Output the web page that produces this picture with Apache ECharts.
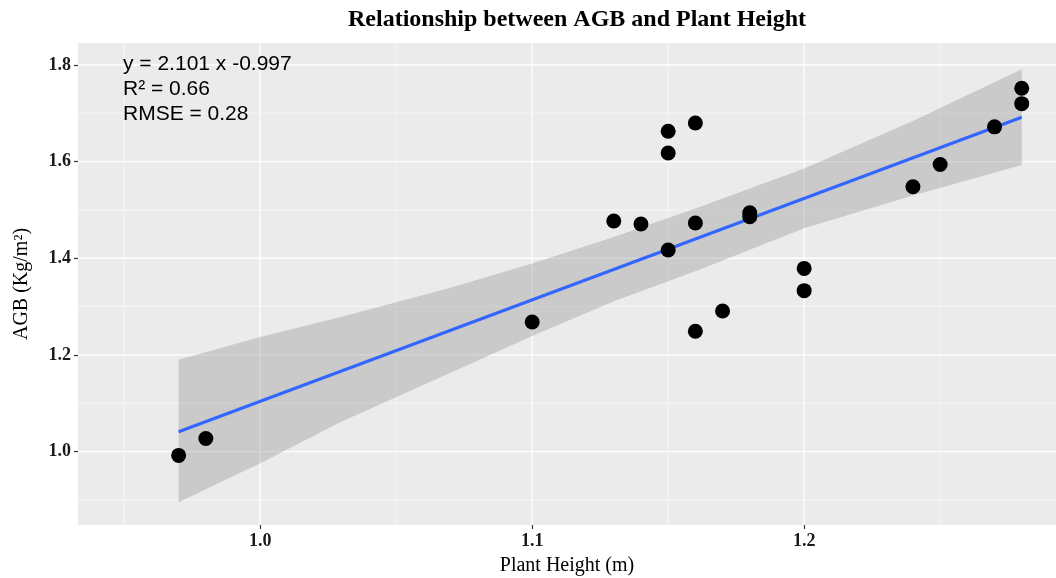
<!DOCTYPE html>
<html lang="en">
<head>
    <meta charset="UTF-8">
    <title>AGB vs Plant Height</title>
    <script src="https://cdn.jsdelivr.net/npm/echarts@6/dist/echarts.min.js"></script>
</head>
<body style="margin:0">
    <div id="main" style="width:1056px;height:578px;"></div>
    <script type="text/javascript">
        var plantHeight = [0.97, 0.98, 1.10, 1.13, 1.14, 1.15, 1.15, 1.15, 1.16, 1.16, 1.16, 1.17, 1.18, 1.18, 1.20, 1.20, 1.24, 1.25, 1.27, 1.28, 1.28];
        var agbValues = [0.992, 1.027, 1.268, 1.477, 1.471, 1.663, 1.618, 1.417, 1.680, 1.473, 1.249, 1.291, 1.494, 1.486, 1.379, 1.333, 1.548, 1.594, 1.672, 1.752, 1.720];
        // fitted line ends
        var fitX = [0.97, 1.28];
        var fitY = [1.041, 1.692];
        // confidence band edges
        var bandX = [0.97, 1.00, 1.03, 1.07, 1.10, 1.13, 1.16, 1.20, 1.24, 1.28];
        var bandLow = [0.895, 0.976, 1.062, 1.163, 1.239, 1.311, 1.373, 1.462, 1.530, 1.593];
        var bandHigh = [1.190, 1.237, 1.279, 1.339, 1.389, 1.444, 1.503, 1.586, 1.684, 1.791];
        // axis ticks
        var xTicks = [1.0, 1.1, 1.2];
        var xMinorTicks = [0.95, 1.05, 1.15, 1.25];
        var yTicks = [1.0, 1.2, 1.4, 1.6, 1.8];
        var yMinorTicks = [0.9, 1.1, 1.3, 1.5, 1.7];
        var annotation = ['y = 2.101 x -0.997', 'R\u00b2 = 0.66', 'RMSE = 0.28'];

        var serif = '"Liberation Serif", "DejaVu Serif", serif';
        var sans = '"Liberation Sans", Arial, sans-serif';

        var points = plantHeight.map(function (x, i) { return [x, agbValues[i]]; });
        var fitLine = fitX.map(function (x, i) { return [x, fitY[i]]; });

        // white panel gridlines, drawn under everything else
        function renderGrid(params, api) {
            var cs = params.coordSys;
            var kids = [];
            function vline(v, w) {
                var p = api.coord([v, 1.4]);
                kids.push({ type: 'line', shape: { x1: p[0], y1: cs.y, x2: p[0], y2: cs.y + cs.height },
                    style: { stroke: '#ffffff', lineWidth: w } });
            }
            function hline(v, w) {
                var p = api.coord([1.1, v]);
                kids.push({ type: 'line', shape: { x1: cs.x, y1: p[1], x2: cs.x + cs.width, y2: p[1] },
                    style: { stroke: '#ffffff', lineWidth: w } });
            }
            xMinorTicks.forEach(function (v) { vline(v, 0.6); });
            yMinorTicks.forEach(function (v) { hline(v, 0.6); });
            xTicks.forEach(function (v) { vline(v, 1.3); });
            yTicks.forEach(function (v) { hline(v, 1.3); });
            return { type: 'group', children: kids };
        }

        var myChart = echarts.init(document.getElementById('main'));
        var option = {
            animation: false,
            backgroundColor: '#ffffff',
            title: {
                text: 'Relationship between AGB and Plant Height',
                left: 572,
                textAlign: 'center',
                top: 3,
                textStyle: { fontFamily: serif, fontWeight: 'bold', fontSize: 24, color: '#000' }
            },
            grid: {
                left: 78, right: 0, top: 43, bottom: 53,
                outerBoundsMode: 'none',
                containLabel: false,
                show: true, backgroundColor: '#EBEBEB', borderWidth: 0
            },
            xAxis: {
                type: 'value',
                min: 0.933, max: 1.2926,
                name: 'Plant Height (m)',
                nameLocation: 'middle',
                nameGap: 31,
                nameTextStyle: { fontFamily: serif, fontSize: 20, color: '#000' },
                axisLine: { show: false },
                axisTick: { show: true, length: 4, customValues: xTicks, lineStyle: { color: '#333', width: 1.2 } },
                axisLabel: { customValues: xTicks, margin: 7, fontFamily: serif, fontWeight: 'bold', fontSize: 18, color: '#1a1a1a',
                    formatter: function (v) { return v.toFixed(1); } },
                splitLine: { show: false }
            },
            yAxis: {
                type: 'value',
                min: 0.848, max: 1.8455,
                name: 'AGB (Kg/m\u00b2)',
                nameLocation: 'middle',
                nameGap: 46,
                nameTextStyle: { fontFamily: serif, fontSize: 20, color: '#000' },
                axisLine: { show: false },
                axisTick: { show: true, length: 4, customValues: yTicks, lineStyle: { color: '#333', width: 1.2 } },
                axisLabel: { customValues: yTicks, margin: 7, fontFamily: serif, fontWeight: 'bold', fontSize: 18, color: '#1a1a1a',
                    formatter: function (v) { return v.toFixed(1); } },
                splitLine: { show: false }
            },
            graphic: [{
                type: 'text',
                left: 123,
                top: 52,
                z: 10,
                style: {
                    text: annotation.join('\n'),
                    font: '21px ' + sans,
                    lineHeight: 25,
                    fill: '#000'
                }
            }],
            series: [
                {
                    name: 'grid',
                    type: 'custom',
                    z: 1,
                    silent: true,
                    data: [0],
                    renderItem: renderGrid
                },
                {
                    name: 'band',
                    type: 'custom',
                    z: 2,
                    silent: true,
                    data: [0],
                    renderItem: function (params, api) {
                        var pts = [];
                        for (var i = 0; i < bandX.length; i++) pts.push(api.coord([bandX[i], bandHigh[i]]));
                        for (var j = bandX.length - 1; j >= 0; j--) pts.push(api.coord([bandX[j], bandLow[j]]));
                        return {
                            type: 'polygon',
                            shape: { points: pts },
                            style: { fill: 'rgba(153,153,153,0.4)', stroke: null }
                        };
                    }
                },
                {
                    name: 'fit',
                    type: 'line',
                    z: 3,
                    data: fitLine,
                    showSymbol: false,
                    lineStyle: { color: '#3366FF', width: 3.2 }
                },
                {
                    name: 'AGB',
                    type: 'scatter',
                    z: 4,
                    data: points,
                    symbolSize: 15,
                    itemStyle: { color: '#000000', opacity: 1 }
                }
            ]
        };
        myChart.setOption(option);
    </script>
</body>
</html>
